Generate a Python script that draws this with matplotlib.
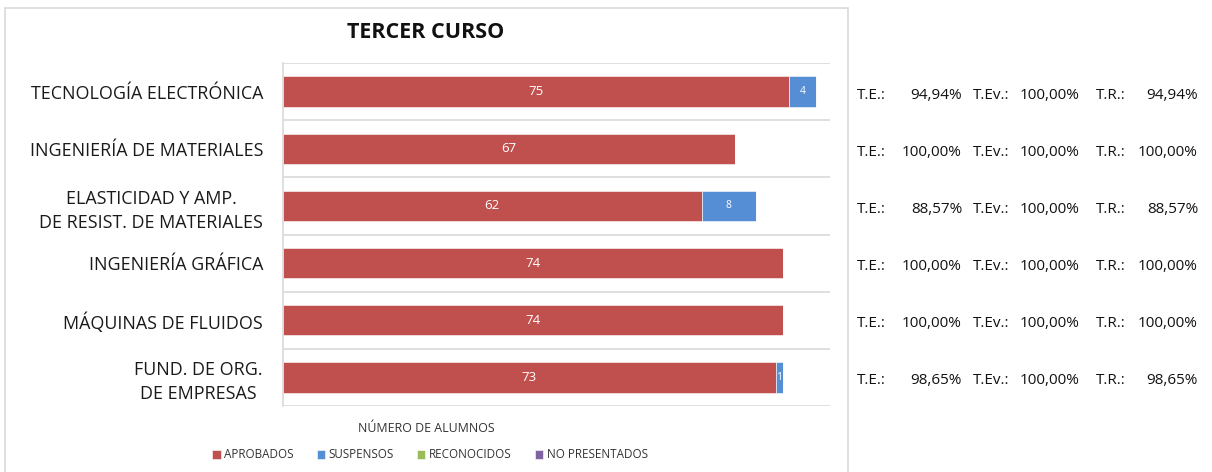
import matplotlib
matplotlib.use("Agg")
import matplotlib.pyplot as plt
from matplotlib.patches import Rectangle
import matplotlib.transforms as mtransforms

plt.rcParams['font.family'] = ['Open Sans', 'DejaVu Sans']

title = "TERCER CURSO"
categories = ["TECNOLOGÍA ELECTRÓNICA", "INGENIERÍA DE MATERIALES",
              "ELASTICIDAD Y AMP.\nDE RESIST. DE MATERIALES", "INGENIERÍA GRÁFICA",
              "MÁQUINAS DE FLUIDOS", "FUND. DE ORG.\nDE EMPRESAS"]
aprobados = [75, 67, 62, 74, 74, 73]
suspensos = [4, 0, 8, 0, 0, 1]
reconocidos = [0, 0, 0, 0, 0, 0]
no_presentados = [0, 0, 0, 0, 0, 0]
series_names = ["APROBADOS", "SUSPENSOS", "RECONOCIDOS", "NO PRESENTADOS"]
colors = ["#C0504D", "#558ED5", "#9BBB59", "#8064A2"]
te = ["94,94%", "100,00%", "88,57%", "100,00%", "100,00%", "98,65%"]
tev = ["100,00%", "100,00%", "100,00%", "100,00%", "100,00%", "100,00%"]
tr = ["94,94%", "100,00%", "88,57%", "100,00%", "100,00%", "98,65%"]
xlabel = "NÚMERO DE ALUMNOS"

W, H = 1212, 472
fig = plt.figure(figsize=(W / 100, H / 100), dpi=100)
fig.patch.set_facecolor("white")

# chart frame
fig.patches.append(Rectangle((5 / W, -0.01), (848 - 5) / W, 1 - 8 / H + 0.01,
                             transform=fig.transFigure, fill=False,
                             edgecolor="#D9D9D9", linewidth=1.2))

ax = fig.add_axes([283 / W, 1 - 406 / H, (830 - 283) / W, (406 - 63) / H])
n = len(categories)
ys = list(range(n))
series = [aprobados, suspensos, reconocidos, no_presentados]
left = [0] * n
bh = 0.53
for vals, col, name in zip(series, colors, series_names):
    ax.barh(ys, vals, left=left, height=bh, color=col, label=name,
            edgecolor="white", linewidth=0.4)
    for i, (v, l) in enumerate(zip(vals, left)):
        if v > 0:
            fs = 9.5 if v >= 10 else 7.5
            ax.text(l + v / 2, i, str(v), ha="center", va="center",
                    color="white", fontsize=fs)
    left = [a + b for a, b in zip(left, vals)]

ax.set_xlim(0, 81)
ax.set_ylim(n - 0.5, -0.5)
ax.set_xticks([])
ax.set_yticks(ys)
ax.set_yticklabels(categories, fontsize=12.9, ha="right", multialignment="center",
                   linespacing=1.4, color="#1a1a1a")
ax.tick_params(axis="y", length=0, pad=14.4)
ax.set_yticks([i - 0.5 for i in range(n + 1)], minor=True)
ax.tick_params(axis="y", which="minor", length=0)
ax.grid(axis="y", which="minor", color="#D9D9D9", linewidth=1.2)
ax.set_axisbelow(True)
for s in ["top", "right", "bottom"]:
    ax.spines[s].set_visible(False)
ax.spines["left"].set_color("#D9D9D9")
ax.spines["left"].set_linewidth(1.2)

fig.text(426 / W, 1 - 33 / H, title, ha="center", va="center",
         fontsize=15.5, fontweight="bold", color="#111111")
fig.text(426 / W, 1 - 428 / H, xlabel, ha="center", va="center",
         fontsize=8.9, color="#333333")

handles, labels = ax.get_legend_handles_labels()
leg = fig.legend(handles, labels, loc="center", bbox_to_anchor=(430 / W, 1 - 455 / H),
                 ncol=4, frameon=False, fontsize=8.4, handlelength=0.7,
                 handleheight=0.7, handletextpad=0.3, columnspacing=2.0)
for t in leg.get_texts():
    t.set_color("#333333")

trans = mtransforms.blended_transform_factory(fig.transFigure, ax.transData)
for i in range(n):
    yy = i + 0.06
    kw = dict(transform=trans, va="center", fontsize=11, color="#111111")
    fig.text(857 / W, yy, "T.E.:", ha="left", **kw)
    fig.text(962 / W, yy, te[i], ha="right", **kw)
    fig.text(973 / W, yy, "T.Ev.:", ha="left", **kw)
    fig.text(1080 / W, yy, tev[i], ha="right", **kw)
    fig.text(1096 / W, yy, "T.R.:", ha="left", **kw)
    fig.text(1198 / W, yy, tr[i], ha="right", **kw)

fig.savefig("out.png", dpi=100, facecolor="white")
